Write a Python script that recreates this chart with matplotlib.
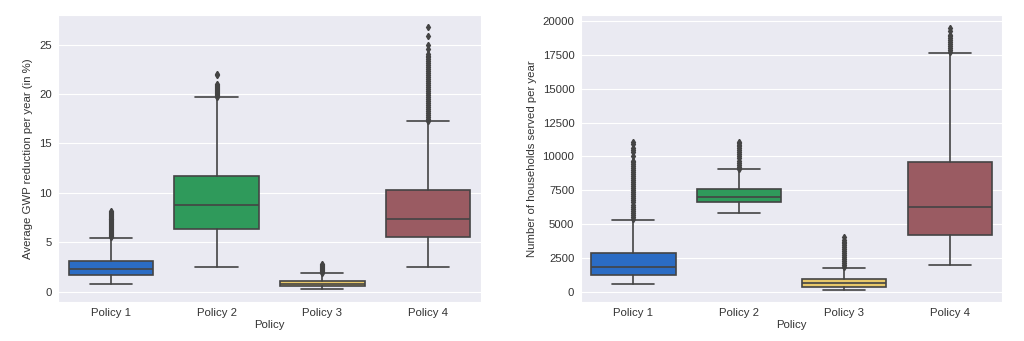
import matplotlib
matplotlib.use("Agg")
import matplotlib.pyplot as plt
import seaborn as sns

sns.set_style("darkgrid")
plt.rcParams['font.family'] = ['Liberation Sans', 'DejaVu Sans']

categories = ["Policy 1", "Policy 2", "Policy 3", "Policy 4"]
colors = ["#2b6cc4", "#2f9a5b", "#e8c86a", "#9a5b62"]

# GWP reduction (%) box statistics
gwp_q1 = [1.68, 6.37, 0.57, 5.53]
gwp_med = [2.26, 8.76, 0.81, 7.31]
gwp_q3 = [3.13, 11.72, 1.08, 10.28]
gwp_lo = [0.77, 2.49, 0.27, 2.49]
gwp_hi = [5.46, 19.68, 1.85, 17.25]
gwp_fliers = [
    [5.5, 5.6, 5.7, 5.8, 5.9, 6.0, 6.1, 6.2, 6.3, 6.4, 6.5, 6.6, 6.7, 6.8,
     6.9, 7.0, 7.1, 7.2, 7.3, 7.4, 7.5, 7.6, 7.7, 7.8, 7.9, 8.0, 8.1, 8.2],
    [19.7, 19.8, 19.9, 20.0, 20.1, 20.2, 20.3, 20.4, 20.5, 20.6, 20.7, 20.8,
     20.9, 21.0, 21.9, 22.0],
    [1.9, 2.0, 2.1, 2.2, 2.3, 2.4, 2.5, 2.6, 2.7, 2.8],
    [17.3, 17.5, 17.7, 17.9, 18.1, 18.3, 18.5, 18.7, 18.9, 19.1, 19.3, 19.5,
     19.7, 19.9, 20.1, 20.3, 20.5, 20.7, 20.9, 21.1, 21.3, 21.5, 21.7, 21.9,
     22.1, 22.3, 22.5, 22.7, 22.9, 23.1, 23.3, 23.5, 23.7, 23.8, 24.1, 24.6,
     25.0, 25.9, 26.8],
]

# Households served per year box statistics
hh_q1 = [1227, 6601, 368, 4196]
hh_med = [1865, 6994, 663, 6282]
hh_q3 = [2871, 7607, 982, 9620]
hh_lo = [564, 5816, 172, 1963]
hh_hi = [5325, 9055, 1767, 17645]
hh_fliers = [
    [5400, 5550, 5700, 5850, 6000, 6150, 6300, 6450, 6600, 6750, 6900, 7050,
     7200, 7350, 7500, 7650, 7800, 7950, 8100, 8250, 8400, 8550, 8700, 8850,
     9000, 9150, 9300, 9450, 9600, 9700, 10050, 10300, 10500, 10650, 10950,
     11100],
    [9100, 9250, 9400, 9550, 9700, 9850, 10000, 10150, 10300, 10450, 10600,
     10750, 10850, 11000, 11100],
    [1800, 1950, 2100, 2250, 2400, 2550, 2700, 2850, 3000, 3150, 3300, 3450,
     3600, 3700, 3850, 4050],
    [17700, 17850, 18000, 18150, 18300, 18450, 18600, 18750, 18900, 19000,
     19300, 19500],
]


def draw(ax, q1, med, q3, lo, hi, fliers, ylabel):
    stats = []
    for i, name in enumerate(categories):
        stats.append(dict(label=name, q1=q1[i], med=med[i], q3=q3[i],
                          whislo=lo[i], whishi=hi[i], fliers=fliers[i]))
    line_c = "#444444"
    bp = ax.bxp(stats, positions=range(len(categories)), widths=0.8,
                capwidths=0.4, patch_artist=True, showfliers=True,
                boxprops=dict(edgecolor=line_c, linewidth=1.2),
                medianprops=dict(color=line_c, linewidth=1.2),
                whiskerprops=dict(color=line_c, linewidth=1.2),
                capprops=dict(color=line_c, linewidth=1.2),
                flierprops=dict(marker="d", markersize=3.2,
                                markerfacecolor=line_c, markeredgecolor=line_c,
                                linestyle="none"))
    for patch, c in zip(bp["boxes"], colors):
        patch.set_facecolor(c)
    ax.set_xlim(-0.5, len(categories) - 0.5)
    ax.set_xticks(range(len(categories)))
    ax.set_xticklabels(categories)
    ax.set_xlabel("Policy", fontsize=8.2, color=".2", labelpad=1.5)
    ax.set_ylabel(ylabel, fontsize=8.2, color=".2", labelpad=4)
    ax.tick_params(axis="both", labelsize=8.2, colors=".2", length=0, pad=4.5)
    ax.grid(axis="x", visible=False)


fig = plt.figure(figsize=(10.24, 3.41), dpi=100)
ax1 = fig.add_axes([0.0566, 0.1144, 0.413, 0.8416])
ax2 = fig.add_axes([0.567, 0.1144, 0.412, 0.8416])

draw(ax1, gwp_q1, gwp_med, gwp_q3, gwp_lo, gwp_hi, gwp_fliers,
     "Average GWP reduction per year (in %)")
draw(ax2, hh_q1, hh_med, hh_q3, hh_lo, hh_hi, hh_fliers,
     "Number of households served per year")
ax1.set_ylim(-1.05, 28.0)
ax1.set_yticks([0, 5, 10, 15, 20, 25])
ax2.set_ylim(-750, 20450)
ax2.set_yticks([0, 2500, 5000, 7500, 10000, 12500, 15000, 17500, 20000])

fig.savefig("out.png", dpi=100)
